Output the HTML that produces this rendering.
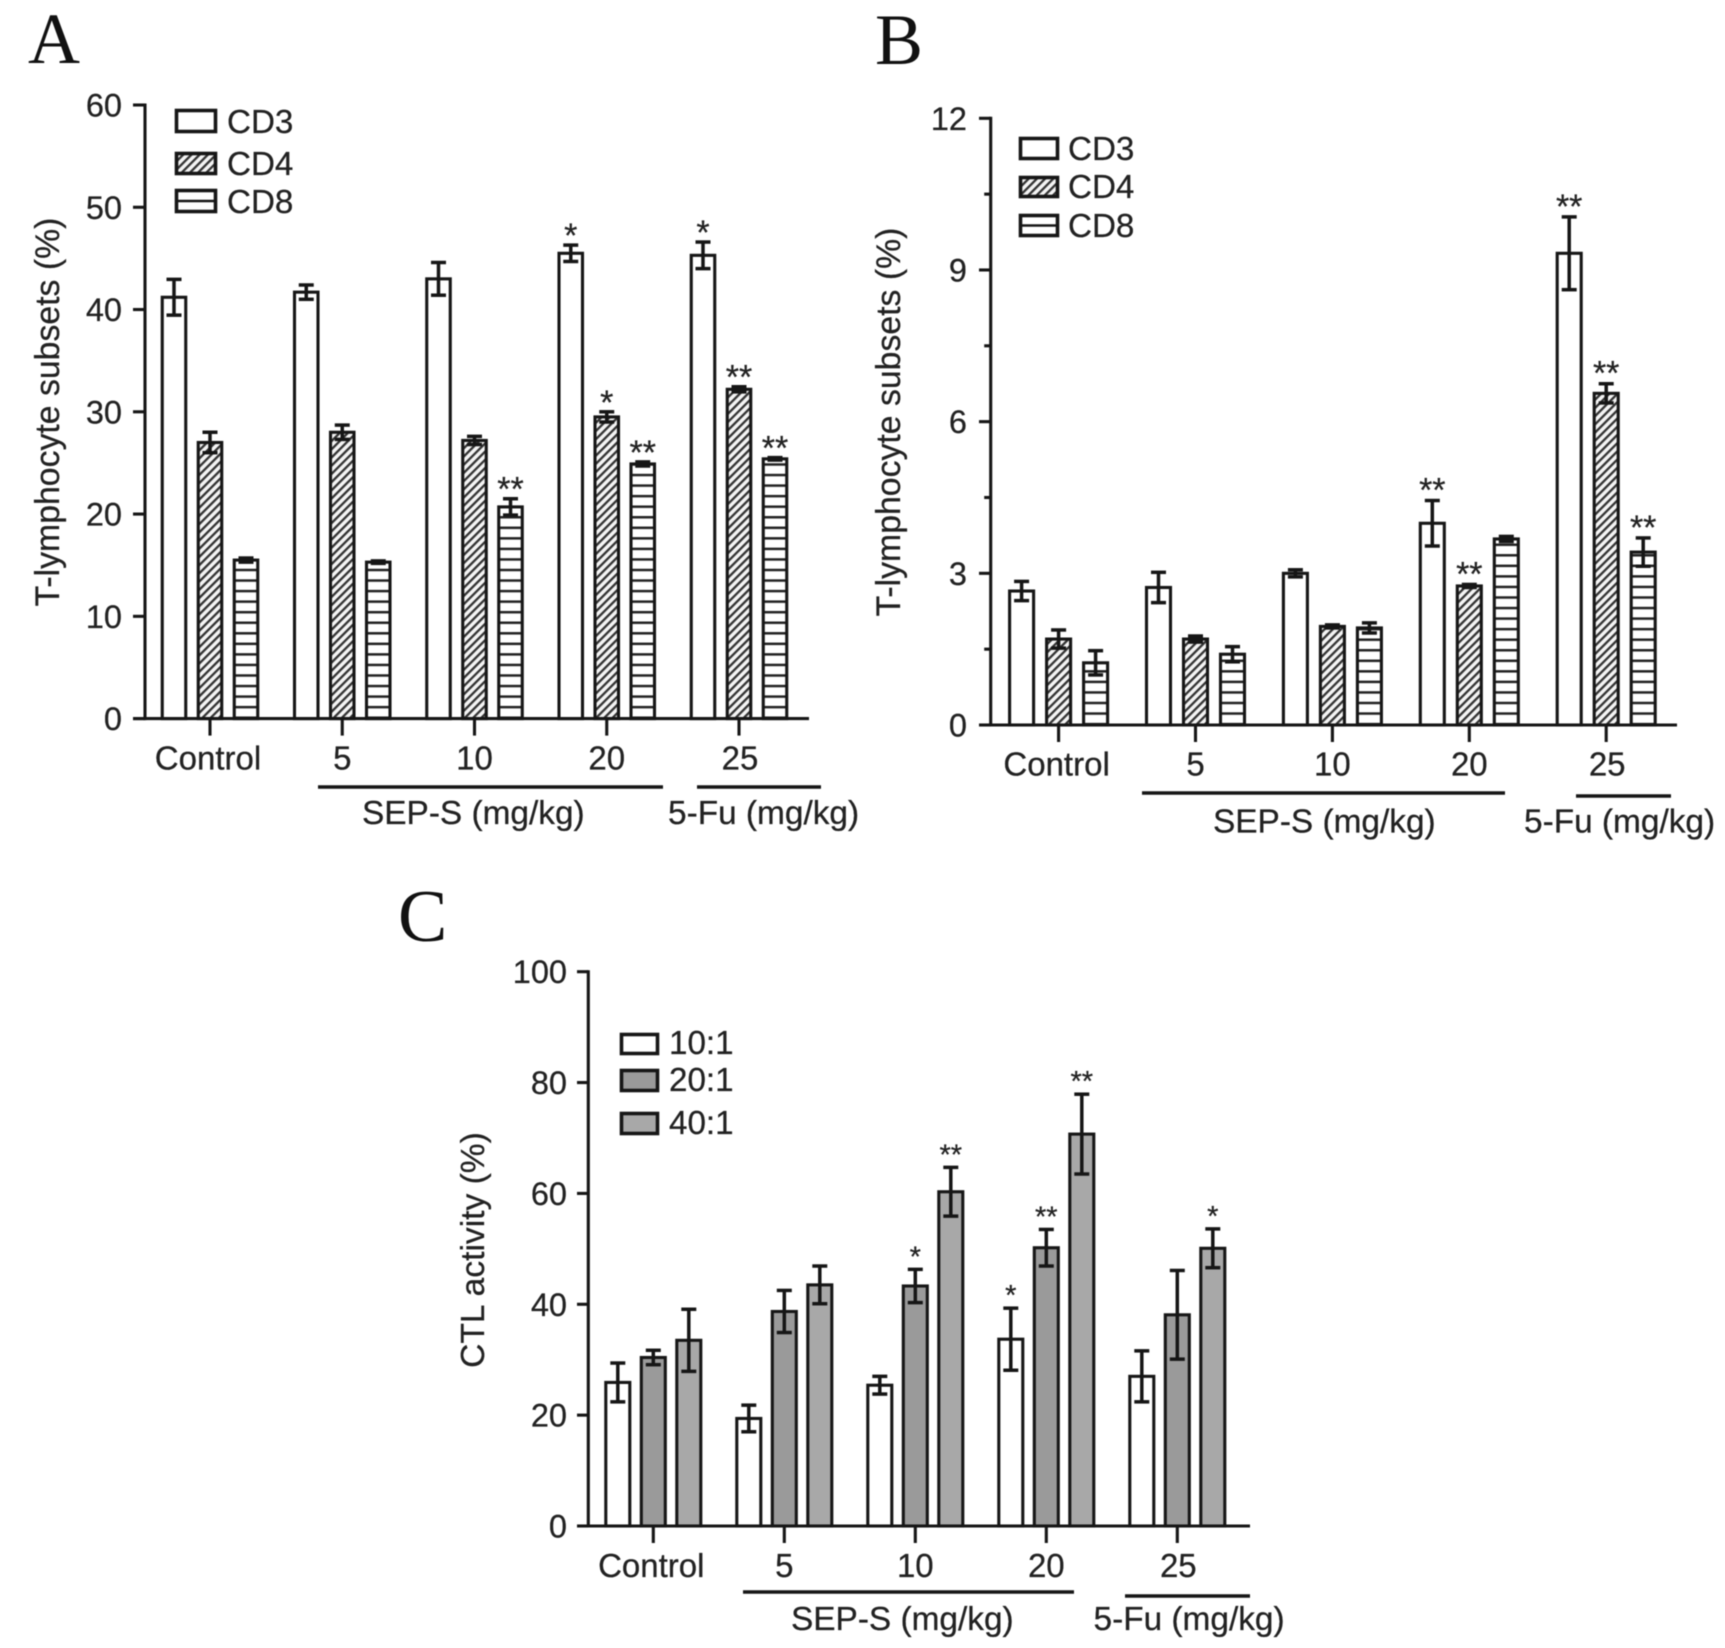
<!DOCTYPE html>
<html lang="en">
<head>
<meta charset="utf-8">
<title>T-lymphocyte subsets and CTL activity</title>
<style>
html,body{margin:0;padding:0;background:#fff;}
svg{display:block;filter:blur(0.55px);}
text{font-family:"Liberation Sans",sans-serif;fill:#222;stroke:#222;stroke-width:0.25px;}
.letter{font-family:"Liberation Serif",serif;fill:#111;stroke:none;}
</style>
</head>
<body>
<svg id="figure" xmlns="http://www.w3.org/2000/svg" width="1725" height="1648" viewBox="0 0 1725 1648">
<rect width="1725" height="1648" fill="#ffffff"/>
</svg>
<script>
// ---------- data ----------
const categories = ['Control', '5', '10', '20', '25'];

const yTicksA = [0, 10, 20, 30, 40, 50, 60];
const seriesNamesA = ['CD3', 'CD4', 'CD8'];
const cd3A = [41.2, 41.7, 43.0, 45.5, 45.3];
const cd4A = [27.0, 28.0, 27.2, 29.5, 32.2];
const cd8A = [15.5, 15.3, 20.7, 24.9, 25.4];
const cd3AErr = [1.75, 0.7, 1.6, 0.8, 1.3];
const cd4AErr = [1.0, 0.7, 0.4, 0.5, 0.25];
const cd8AErr = [0.2, 0.12, 0.8, 0.2, 0.12];
const cd3AStars = ['', '', '', '*', '*'];
const cd4AStars = ['', '', '', '*', '**'];
const cd8AStars = ['', '', '**', '**', '**'];

const yTicksB = [0, 3, 6, 9, 12];
const yMinorB = [1.5, 4.5, 7.5, 10.5];
const seriesNamesB = ['CD3', 'CD4', 'CD8'];
const cd3B = [2.65, 2.72, 3.0, 3.99, 9.33];
const cd4B = [1.7, 1.7, 1.95, 2.75, 6.56];
const cd8B = [1.23, 1.4, 1.92, 3.68, 3.42];
const cd3BErr = [0.19, 0.3, 0.07, 0.45, 0.72];
const cd4BErr = [0.18, 0.06, 0.03, 0.03, 0.19];
const cd8BErr = [0.24, 0.15, 0.1, 0.05, 0.28];
const cd3BStars = ['', '', '', '**', '**'];
const cd4BStars = ['', '', '', '**', '**'];
const cd8BStars = ['', '', '', '', '**'];

const yTicksC = [0, 20, 40, 60, 80, 100];
const seriesNamesC = ['10:1', '20:1', '40:1'];
const ratio10C = [25.9, 19.4, 25.4, 33.7, 27.0];
const ratio20C = [30.4, 38.7, 43.3, 50.2, 38.1];
const ratio40C = [33.5, 43.5, 60.3, 70.7, 50.1];
const ratio10CErr = [3.5, 2.4, 1.6, 5.6, 4.6];
const ratio20CErr = [1.3, 3.8, 3.0, 3.3, 8.0];
const ratio40CErr = [5.6, 3.4, 4.4, 7.2, 3.5];
const ratio10CStars = ['', '', '', '*', ''];
const ratio20CStars = ['', '', '*', '**', ''];
const ratio40CStars = ['', '', '**', '**', '*'];

// ---------- helpers ----------
const NS = 'http://www.w3.org/2000/svg';
const svg = document.getElementById('figure');
const defs = document.createElementNS(NS, 'defs');
svg.appendChild(defs);
const INK = '#161616';
const SW = 3.1;
const ERR_W = 3.5;

function shape(parent, tag, attrs, name) {
  const el = document.createElementNS(NS, tag);
  for (const k in attrs) el.setAttribute(k, attrs[k]);
  
  
  parent.appendChild(el);
  return el;
}
function line(parent, x1, y1, x2, y2, name, w) {
  return shape(parent, 'line', {x1: x1, y1: y1, x2: x2, y2: y2, stroke: INK, 'stroke-width': w || SW}, name);
}
function label(parent, x, y, str, size, anchor, name) {
  const el = shape(parent, 'text', {x: x, y: y, 'font-size': size, 'text-anchor': anchor || 'middle'}, name);
  el.textContent = str;
  return el;
}
function makePatterns(id, y0) {
  const h = document.createElementNS(NS, 'pattern');
  h.setAttribute('id', 'hatch-' + id);
  h.setAttribute('patternUnits', 'userSpaceOnUse');
  h.setAttribute('width', '5.8');
  h.setAttribute('height', '5.8');
  h.setAttribute('patternTransform', 'rotate(45)');
  h.innerHTML = '<rect width="5.8" height="5.8" fill="#f4f4f4"/><rect width="2.3" height="5.8" fill="#333"/>';
  defs.appendChild(h);
  const s = document.createElementNS(NS, 'pattern');
  s.setAttribute('id', 'stripe-' + id);
  s.setAttribute('patternUnits', 'userSpaceOnUse');
  s.setAttribute('width', '10');
  s.setAttribute('height', '10.55');
  s.setAttribute('patternTransform', 'translate(0,' + (y0 - 12.7) + ')');
  s.innerHTML = '<rect width="10" height="10.55" fill="#fff"/><rect width="10" height="2.5" fill="#222"/>';
  defs.appendChild(s);
}

function drawPanel(p) {
  const g = shape(svg, 'g', {}, 'panel-' + p.id);
  const yScale = v => p.y0 - (v / p.yMax) * (p.y0 - p.yTop);
  const xScale = i => p.cat0 + i * p.catStep;
  makePatterns(p.id, p.y0);

  label(g, p.letterX, p.letterY, p.id.toUpperCase(), p.letterSize, 'start', 'panel-letter').setAttribute('class', 'letter');

  // bars + error bars
  p.series.forEach(function (values, s) {
    const sg = shape(g, 'g', {}, 'series-' + p.seriesNames[s].replace(':', '-to-'));
    values.forEach(function (v, i) {
      const cx = xScale(i) + (s - 1) * p.offset;
      const top = yScale(v);
      shape(sg, 'rect', {
        x: cx - p.barW / 2, y: top, width: p.barW, height: p.y0 - top,
        fill: p.fills[s], stroke: INK, 'stroke-width': SW
      }, 'bar-' + categories[i].toLowerCase());
      const eHi = yScale(v + p.errors[s][i]);
      const eLo = yScale(v - p.errors[s][i]);
      line(sg, cx, eHi, cx, eLo, 'error-bar', ERR_W);
      line(sg, cx - 7.5, eHi, cx + 7.5, eHi, 'error-cap-upper', ERR_W);
      line(sg, cx - 7.5, eLo, cx + 7.5, eLo, 'error-cap-lower', ERR_W);
      const st = p.stars[s][i];
      if (st) label(sg, cx, eHi + p.starDy, st, p.starSize, 'middle', 'significance-marker');
    });
  });

  // axes
  line(g, p.axisX, p.y0 + 1.5, p.axisX, p.yTop - 1.5, 'y-axis');
  line(g, p.axisLeft, p.y0, p.axisRight, p.y0, 'x-axis');
  p.yTicks.forEach(function (t) {
    const y = yScale(t);
    line(g, p.axisLeft, y, p.axisX, y, 'y-tick');
    label(g, p.yLabelX, y + 11.5, String(t), 32.5, 'end', 'y-tick-label');
  });
  (p.yMinor || []).forEach(function (t) {
    const y = yScale(t);
    line(g, p.axisX - 6.5, y, p.axisX, y, 'y-minor-tick');
  });
  categories.forEach(function (c, i) {
    const x = xScale(i);
    line(g, x, p.y0, x, p.y0 + 17, 'x-tick');
    label(g, x - (i === 0 ? 2 : 0) + (i === 4 ? 1 : 0), p.catLabelY, c, 33, 'middle', 'x-tick-label');
  });

  // axis title
  const title = label(g, 0, 0, p.yTitle, p.titleSize, 'middle', 'y-axis-title');
  title.setAttribute('transform', 'translate(' + p.titleX + ',' + p.titleY + ') rotate(-90)');

  // group brackets and captions
  line(g, p.sepLine[0], p.sepLine[2], p.sepLine[1], p.sepLine[2], 'sep-s-group-line', 3.6);
  line(g, p.fuLine[0], p.fuLine[2], p.fuLine[1], p.fuLine[2], 'five-fu-group-line', 3.6);
  label(g, p.sepText[0], p.sepText[1], 'SEP-S (mg/kg)', 33.4, 'start', 'sep-s-group-label');
  label(g, p.fuText[0], p.fuText[1], '5-Fu (mg/kg)', 33.4, 'start', 'five-fu-group-label');

  // legend
  const lg = shape(g, 'g', {}, 'legend');
  p.seriesNames.forEach(function (n, s) {
    const box = p.legendBoxes[s];
    shape(lg, 'rect', {
      x: p.legendX + 1.5, y: box[0] + 1.5, width: p.legendW - 3, height: box[1] - box[0] - 3,
      fill: p.legendFills[s], stroke: INK, 'stroke-width': SW + 0.5
    }, 'legend-swatch-' + s);
    if (p.legendMidLine === s) {
      line(lg, p.legendX, (box[0] + box[1]) / 2, p.legendX + p.legendW, (box[0] + box[1]) / 2, 'legend-swatch-stripe', 2.4);
    }
    label(lg, p.legendTextX, box[1] + p.legendTextDy, n, 33.2, 'start', 'legend-label');
  });
}

// ---------- panels ----------
drawPanel({
  id: 'a', letterX: 28, letterY: 63, letterSize: 72,
  y0: 718.6, yTop: 105, yMax: 60, axisX: 145, axisLeft: 133, axisRight: 809,
  cat0: 210, catStep: 132.25, offset: 36, barW: 23.5,
  yTicks: yTicksA, yLabelX: 122, catLabelY: 769.5,
  series: [cd3A, cd4A, cd8A], errors: [cd3AErr, cd4AErr, cd8AErr], stars: [cd3AStars, cd4AStars, cd8AStars],
  seriesNames: seriesNamesA, fills: ['#fff', 'url(#hatch-a)', 'url(#stripe-a)'],
  starDy: 2, starSize: 34,
  yTitle: 'T-lymphocyte subsets (%)', titleSize: 33.8, titleX: 59, titleY: 412,
  sepLine: [318, 663, 787], fuLine: [697, 821, 787],
  sepText: [362, 824], fuText: [668, 824],
  legendX: 175, legendW: 42, legendBoxes: [[109, 133], [152, 175], [189, 213]],
  legendFills: ['#fff', 'url(#hatch-a)', '#fff'], legendMidLine: 2,
  legendTextX: 227, legendTextDy: 0
});

drawPanel({
  id: 'b', letterX: 875, letterY: 64, letterSize: 72,
  y0: 725, yTop: 118.3, yMax: 12, axisX: 990.7, axisLeft: 979, axisRight: 1677,
  cat0: 1058.6, catStep: 136.9, offset: 37, barW: 24,
  yTicks: yTicksB, yMinor: yMinorB, yLabelX: 967, catLabelY: 775.5,
  series: [cd3B, cd4B, cd8B], errors: [cd3BErr, cd4BErr, cd8BErr], stars: [cd3BStars, cd4BStars, cd8BStars],
  seriesNames: seriesNamesB, fills: ['#fff', 'url(#hatch-b)', 'url(#stripe-b)'],
  starDy: 1, starSize: 34,
  yTitle: 'T-lymphocyte subsets (%)', titleSize: 33.8, titleX: 900, titleY: 422,
  sepLine: [1142, 1505, 793], fuLine: [1576, 1671, 796],
  sepText: [1213, 832.5], fuText: [1524, 832.5],
  legendX: 1019, legendW: 40, legendBoxes: [[137, 160], [176, 198], [214, 237]],
  legendFills: ['#fff', 'url(#hatch-b)', '#fff'], legendMidLine: 2,
  legendTextX: 1068, legendTextDy: 0
});

drawPanel({
  id: 'c', letterX: 398, letterY: 941, letterSize: 74,
  y0: 1526, yTop: 971.7, yMax: 100, axisX: 588.3, axisLeft: 577, axisRight: 1250,
  cat0: 653.3, catStep: 131, offset: 35.5, barW: 24,
  yTicks: yTicksC, yLabelX: 567, catLabelY: 1577,
  series: [ratio10C, ratio20C, ratio40C], errors: [ratio10CErr, ratio20CErr, ratio40CErr], stars: [ratio10CStars, ratio20CStars, ratio40CStars],
  seriesNames: seriesNamesC, fills: ['#fff', '#9a9a9a', '#a8a8a8'],
  starDy: -3, starSize: 29,
  yTitle: 'CTL activity (%)', titleSize: 33.6, titleX: 484, titleY: 1250,
  sepLine: [743, 1074, 1592], fuLine: [1125, 1250, 1596],
  sepText: [791, 1630], fuText: [1093.5, 1630],
  legendX: 620, legendW: 39, legendBoxes: [[1033, 1055], [1069, 1092], [1112, 1135]],
  legendFills: ['#fff', '#9a9a9a', '#a8a8a8'], legendMidLine: -1,
  legendTextX: 669, legendTextDy: -1
});
</script>
</body>
</html>
